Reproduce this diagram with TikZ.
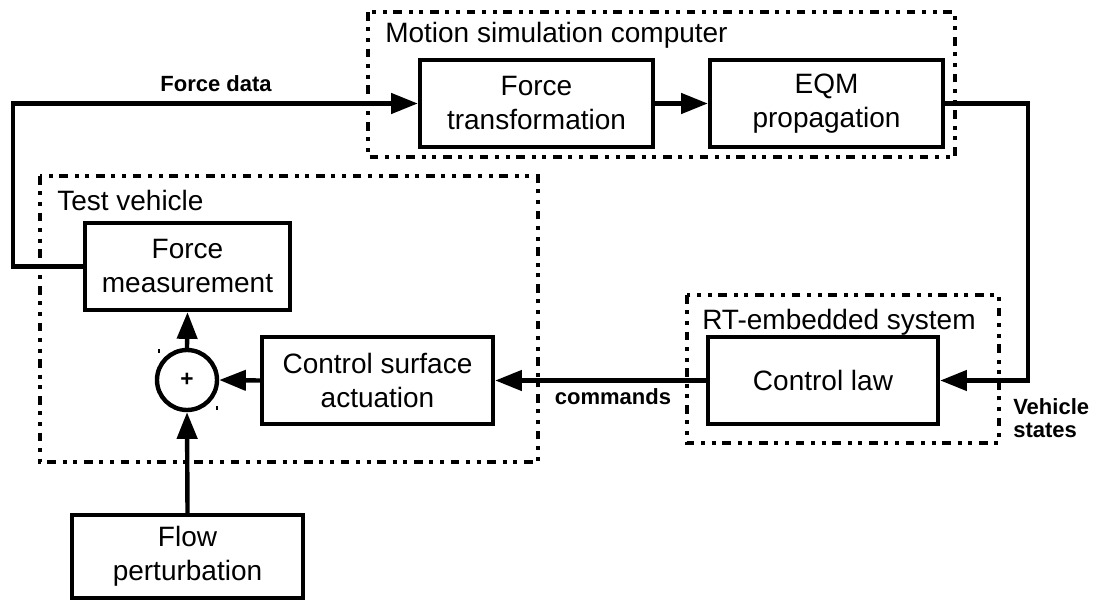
\documentclass[tikz,border=0pt]{standalone}
\usepackage{fontspec}
\setmainfont{Liberation Sans}
\usetikzlibrary{arrows.meta}
\begin{document}
\begin{tikzpicture}[x=0.75pt,y=-0.75pt,
  blk/.style={draw, line width=3.3pt, align=center, inner sep=0pt,
    font=\fontsize{21}{25.5}\selectfont},
  grp/.style={line width=3.3pt, dash pattern=on 6.5pt off 5pt on 3pt off 5pt on 3pt off 5pt},
  grplabel/.style={anchor=west, inner sep=0pt, font=\fontsize{21}{25.5}\selectfont},
  conn/.style={line width=3.3pt, -{Triangle[length=20pt,width=15pt]}},
  sig/.style={inner sep=0pt, font=\bfseries\fontsize{16.5}{19}\selectfont}]
\useasboundingbox (0,0) rectangle (1096,602);

% group frames
\draw[grp] (368,12) rectangle (955,157);
\node[grplabel] (lms) at (385,35) {Motion simulation computer};
\draw[grp] (40,176) rectangle (538,462);
\node[grplabel] (ltv) at (57,200) {Test vehicle};
\draw[grp] (687,295) rectangle (999,443);
\node[grplabel] (lrt) at (702,322) {RT-embedded system};

% blocks
\node[blk, minimum width=174.75pt, minimum height=65.25pt] (ft) at (536.5,103.5) {Force\\transformation};
\node[blk, minimum width=174.75pt, minimum height=65.25pt] (eqm) at (826.5,103.5) {EQM\\propagation};
\node[blk, minimum width=153.75pt, minimum height=65.25pt] (fm) at (187.5,266.5) {Force\\measurement};
\node[blk, minimum width=173.25pt, minimum height=65.25pt] (csa) at (377.5,380.5) {Control surface\\actuation};
\node[blk, minimum width=172.5pt, minimum height=65.25pt] (cl) at (823,380.5) {Control law};
\node[blk, minimum width=173.25pt, minimum height=62.25pt] (fp) at (187.5,556.5) {Flow\\perturbation};
\node[draw, circle, line width=3.3pt, minimum size=45pt, inner sep=0pt,
      font=\bfseries\fontsize{17}{17}\selectfont] (sum) at (187,380) {+};

% tiny sign ticks
\draw[line width=0.8pt] (159,349) -- (159,353);
\draw[line width=0.8pt] (217,406) -- (217,410);

% connector corners
\coordinate (c1) at (13,266.5);
\coordinate (c2) at (13,103.5);
\coordinate (c3) at (1028,103.5);
\coordinate (c4) at (1028,380.5);

% connectors
\draw[conn] (fm.west) -- (c1) -- (c2) -- (ft.west);
\draw[conn] (ft.east) -- (eqm.west);
\draw[conn] (eqm.east) -- (c3) -- (c4) -- (cl.east);
\draw[conn] (cl.west) -- (csa.east);
\draw[conn] (csa.west) -- (sum.east);
\draw[conn] (sum.north) -- (fm.south);
\draw[conn] (fp.north) -- (sum.south);

% signal labels
\node[sig] (lfd) at (216,84) {Force data};
\node[sig] (lcmd) at (613,397) {commands};
\node[sig, anchor=west, align=left, font=\bfseries\fontsize{16.5}{17.5}\selectfont] (lvs) at (1013,418) {Vehicle\\states};
\end{tikzpicture}
\end{document}
